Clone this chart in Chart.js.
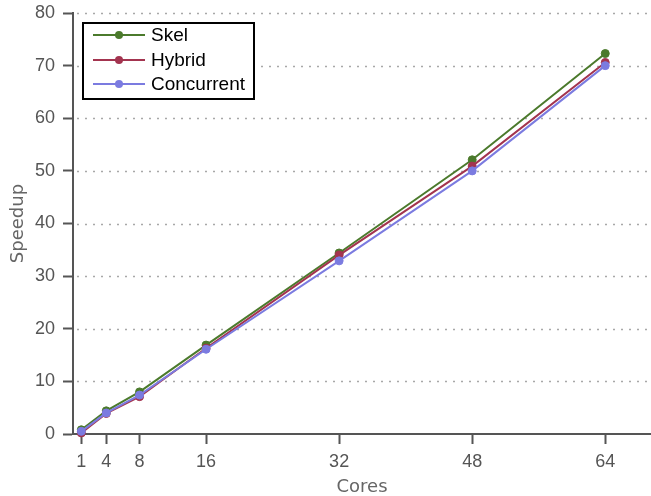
<!DOCTYPE html>
<html>
<head>
<meta charset="utf-8">
<script src="https://cdn.jsdelivr.net/npm/chart.js@4"></script>
<style>
html,body{margin:0;padding:0;background:#fff;}
#wrap{position:relative;width:651px;height:496px;}
</style>
</head>
<body>
<div id="wrap"><canvas id="c" width="651" height="496"></canvas></div>
<script>
const cores = [1, 4, 8, 16, 32, 48, 64];
const skel = [0.8, 4.4, 8.0, 16.9, 34.4, 52.1, 72.3];
const hybrid = [0.2, 3.9, 7.1, 16.3, 34.0, 50.9, 70.6];
const concurrent = [0.5, 4.0, 7.4, 16.1, 32.9, 50.0, 70.0];
const xTicks = [1, 4, 8, 16, 32, 48, 64];
const yTicks = [0, 10, 20, 30, 40, 50, 60, 70, 80];
const seriesNames = ['Skel', 'Hybrid', 'Concurrent'];
const seriesColors = ['#4b7a2c', '#a3344f', '#7b7be0'];

const axisColor = '#555555';
const tickFont = {family: '"Liberation Sans", Arial, sans-serif', size: 18};
const titleFont = {family: '"DejaVu Sans", sans-serif', size: 18, lineHeight: 1};

function mk(name, vals, color, order) {
  return {
    label: name,
    data: cores.map((c, i) => ({x: c, y: vals[i]})),
    borderColor: color,
    backgroundColor: color,
    pointBackgroundColor: color,
    pointBorderColor: color,
    pointRadius: 4,
    pointBorderWidth: 1,
    borderWidth: 2,
    tension: 0,
    clip: false,
    order: order
  };
}

const dottedGrid = {
  id: 'dottedGrid',
  beforeDatasetsDraw(chart) {
    const {ctx, chartArea} = chart;
    const ys = chart.scales.y;
    ctx.save();
    ctx.strokeStyle = '#a8a8a8';
    ctx.lineWidth = 1.5;
    ctx.setLineDash([2, 6]);
    yTicks.forEach(v => {
      if (v === 0) return;
      const py = Math.round(ys.getPixelForValue(v)) + 0.5;
      ctx.beginPath();
      ctx.moveTo(chartArea.left + 4, py);
      ctx.lineTo(chartArea.right, py);
      ctx.stroke();
    });
    ctx.restore();
  }
};

const boxLegend = {
  id: 'boxLegend',
  afterDraw(chart) {
    const {ctx} = chart;
    const x0 = 83, y0 = 23, w = 171, h = 76;
    ctx.save();
    ctx.fillStyle = '#ffffff';
    ctx.fillRect(x0, y0, w, h);
    ctx.strokeStyle = '#000000';
    ctx.lineWidth = 2;
    ctx.setLineDash([]);
    ctx.strokeRect(x0, y0, w, h);
    const rows = [35, 60, 84];
    chart.data.datasets.forEach((ds, i) => {
      const y = rows[i];
      ctx.strokeStyle = ds.borderColor;
      ctx.lineWidth = 2;
      ctx.beginPath();
      ctx.moveTo(93, y);
      ctx.lineTo(145, y);
      ctx.stroke();
      ctx.fillStyle = ds.borderColor;
      ctx.beginPath();
      ctx.arc(119, y, 4, 0, Math.PI * 2);
      ctx.fill();
      ctx.fillStyle = '#000000';
      ctx.font = '19px "Liberation Sans", Arial, sans-serif';
      ctx.textBaseline = 'middle';
      ctx.textAlign = 'left';
      ctx.fillText(ds.label, 151, y + 1);
    });
    ctx.restore();
  }
};

new Chart(document.getElementById('c'), {
  type: 'line',
  data: {
    datasets: [
      mk(seriesNames[0], skel, seriesColors[0], 2),
      mk(seriesNames[1], hybrid, seriesColors[1], 1),
      mk(seriesNames[2], concurrent, seriesColors[2], 0)
    ]
  },
  options: {
    responsive: false,
    animation: false,
    devicePixelRatio: 1,
    layout: {autoPadding: false, padding: {top: 13, right: 0, left: 0, bottom: 0}},
    plugins: {legend: {display: false}, tooltip: {enabled: false}},
    scales: {
      x: {
        type: 'linear',
        min: 0,
        max: 69.5,
        afterBuildTicks: s => { s.ticks = xTicks.map(v => ({value: v})); },
        afterFit: s => { s.height = 62; s.paddingLeft = 0; s.paddingRight = 0; },
        grid: {drawOnChartArea: false, drawTicks: true, tickLength: 10, tickColor: axisColor, tickWidth: 2, color: axisColor},
        border: {display: true, color: axisColor, width: 2},
        ticks: {font: tickFont, color: axisColor, padding: 7, autoSkip: false, maxRotation: 0, callback: v => String(v)},
        title: {display: true, text: 'Cores', font: titleFont, color: '#666666', padding: {top: 0, bottom: 0}}
      },
      y: {
        type: 'linear',
        min: 0,
        max: 80,
        afterBuildTicks: s => { s.ticks = yTicks.map(v => ({value: v})); },
        afterFit: s => { s.width = 73; s.paddingTop = 0; s.paddingBottom = 0; },
        grid: {drawOnChartArea: false, drawTicks: true, tickLength: 10, tickColor: axisColor, tickWidth: 2, color: axisColor},
        border: {display: true, color: axisColor, width: 2},
        ticks: {font: tickFont, color: axisColor, padding: 8, callback: v => String(v)},
        title: {display: true, text: 'Speedup', font: titleFont, color: '#666666', padding: {top: 9, bottom: 0}}
      }
    }
  },
  plugins: [dottedGrid, boxLegend]
});
</script>
</body>
</html>
